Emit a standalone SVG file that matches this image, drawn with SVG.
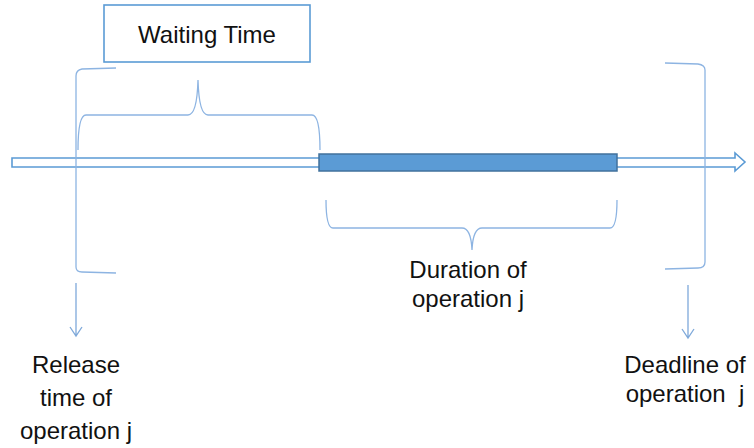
<svg xmlns="http://www.w3.org/2000/svg" width="754" height="448" viewBox="0 0 754 448">
  <style>
    .lbl { font-family: "Liberation Sans", Arial, sans-serif; font-size: 24px; fill: #111; text-anchor: middle; }
    .brk { fill: none; stroke: #8DB4E2; stroke-width: 1.3; }
    .ptr { fill: none; stroke: #7FA9DA; stroke-width: 1.3; }
  </style>
  <rect width="754" height="448" fill="#ffffff"/>

  <!-- time axis with the scheduled operation -->
  <g id="timeline">
    <path d="M12,158 L735,158 L735,153 L745,162 L735,171 L735,167 L12,167 Z" fill="#ffffff" stroke="#5B9BD5" stroke-width="1.6"/>
    <rect x="319" y="154" width="298" height="17" fill="#5B9BD5" stroke="#41719C" stroke-width="1.5"/>
  </g>

  <g id="waiting-label">
    <rect x="104" y="5" width="206" height="57" fill="#ffffff" stroke="#5B9BD5" stroke-width="1.6"/>
    <text class="lbl" x="207" y="43">Waiting Time</text>
  </g>

  <g id="connectors">
    <!-- release bracket -->
    <path class="brk" d="M116,68 L82,69 Q76,70 76,76 L76,267 Q76,272 82,272 L116,273"/>
    <!-- deadline bracket -->
    <path class="brk" d="M665,63 L698,64 Q705,65 705,70 L705,262 Q705,268 698,268 L665,269"/>
    <!-- waiting brace -->
    <path class="brk" d="M78,150 Q78,115 86,115 L188,115 Q197,115 198,80 Q199,115 208,115 L312,115 Q320,115 320,150"/>
    <!-- duration brace -->
    <path class="brk" d="M326,200 Q326,228 333,228 L462,228 Q471,228 472,250 Q473,228 482,228 L610,228 Q617,228 617,200"/>
    <!-- pointers to labels -->
    <path class="ptr" d="M76,283 L76,336 M70,327 L76,336 L82,327"/>
    <path class="ptr" d="M688,285 L688,338 M682,329 L688,338 L694,329"/>
  </g>

  <g id="duration-label">
    <text class="lbl" x="468" y="278">Duration of</text>
    <text class="lbl" x="468" y="307">operation j</text>
  </g>

  <g id="release-label">
    <text class="lbl" x="76" y="373">Release</text>
    <text class="lbl" x="76" y="406">time of</text>
    <text class="lbl" x="76" y="439">operation j</text>
  </g>

  <g id="deadline-label">
    <text class="lbl" x="685" y="373">Deadline of</text>
    <text class="lbl" x="685" y="402" xml:space="preserve">operation  j</text>
  </g>
</svg>
